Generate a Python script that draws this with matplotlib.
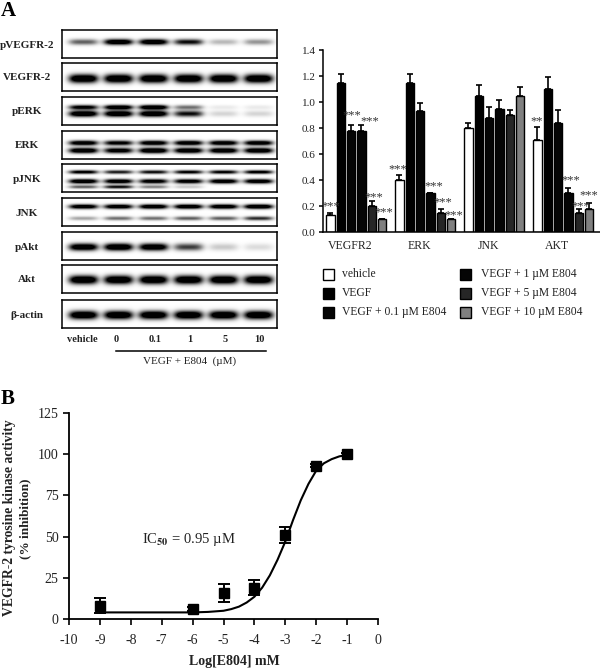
#!/usr/bin/python

import numpy as np
import matplotlib
matplotlib.use('Agg')
import matplotlib.pyplot as plt
from matplotlib.patches import Rectangle

plt.rcParams['font.family'] = ['Liberation Serif', 'DejaVu Serif']
plt.rcParams['mathtext.fontset'] = 'stix'

W, H = 600, 670

# panel A, blots: name, y of box top, bands as (y fraction, thickness px, six lane strengths)
blot_names = ['pVEGFR-2', 'VEGFR-2', 'pERK', 'ERK', 'pJNK', 'JNK', 'pAkt', 'Akt', '\u03b2-actin']
blot_tops = [30, 63, 97, 131, 164, 198, 232, 265, 300]
blot_bands = [
    [(.41, 2.0, [.45, .95, .95, .7, .2, .3])],
    [(.54, 3.0, [1, 1, 1, 1, 1, 1])],
    [(.35, 1.6, [.8, .95, 1, .4, .06, .06]), (.58, 2.1, [1, 1, 1, .7, .12, .12])],
    [(.41, 1.7, [.9, .8, .9, .9, .9, .9]), (.68, 1.9, [.95, .85, 1, .95, .95, .95])],
    [(.27, 1.3, [.8, .65, .7, .75, .75, .8]), (.60, 1.6, [.95, .9, .85, .85, .9, .9]),
     (.80, 1.2, [.45, .7, .35, .15, 0, 0])],
    [(.29, 1.6, [.9, .9, .95, .95, .95, 1]), (.71, 1.4, [.25, .4, .4, .45, .45, .6])],
    [(.52, 2.5, [.95, 1, .95, .55, .15, .1])],
    [(.51, 3.0, [1, 1, 1, 1, 1, 1])],
    [(.52, 2.9, [1, 1, 1, 1, 1, 1])],
]
lane_centres = [83, 118, 153, 188, 223, 258]
lane_labels = ['vehicle', '0', '0.1', '1', '5', '10']
lane_label_x = [82, 116, 155, 190, 225, 259]

# panel A, bars
groups = ['VEGFR2', 'ERK', 'JNK', 'AKT']
treatments = ['vehicle', 'VEGF', 'VEGF + 0.1 \u00b5M E804', 'VEGF + 1 \u00b5M E804',
              'VEGF + 5 \u00b5M E804', 'VEGF + 10 \u00b5M E804']
bar_colors = ['white', 'black', '#050505', '#050505', '#262626', '#808080']
vals = [[.13, 1.15, .78, .78, .20, .10],
        [.40, 1.15, .93, .30, .15, .10],
        [.80, 1.05, .88, .95, .90, 1.05],
        [.71, 1.10, .84, .30, .15, .175]]
errs = [[.02, .065, .045, .045, .04, 0],
        [.04, .065, .06, 0, .03, 0],
        [.04, .08, .08, .065, .04, .065],
        [.10, .09, .095, .04, .03, .045]]
# group, bar, text, y, x shift in bar spacings
stars = [(0, 0, '***', .195, 0), (0, 2, '***', .90, .1), (0, 3, '***', .85, .8),
         (0, 4, '***', .265, .2), (0, 5, '***', .15, .15),
         (1, 0, '***', .485, -.2), (1, 3, '***', .355, .3), (1, 4, '***', .225, .2),
         (1, 5, '***', .13, .25),
         (3, 0, '**', .855, -.1), (3, 3, '***', .395, .2), (3, 4, '***', .195, .15),
         (3, 5, '***', .285, 0)]

# panel B
dose_x = [-9, -6, -5, -4, -3, -2, -1]
dose_y = [8, 6, 16, 19, 51, 93, 100]
dose_err = [4.5, 1, 5.5, 4.5, 5, 1, 1]
curve_x = [-9, -7, -6, -5.5, -5, -4.75, -4.5, -4.25, -4, -3.75, -3.5, -3.25, -3, -2.75,
           -2.5, -2.25, -2, -1.75, -1.5, -1.25, -1]
curve_y = [4, 4, 4, 4.3, 5, 6, 7.5, 10, 13.5, 19, 26.5, 36, 47, 60,
           72, 82, 90, 94.5, 97, 98.7, 99.5]


def px_axes(fig, x0, y0, x1, y1):
    return fig.add_axes([x0 / W, 1 - y1 / H, (x1 - x0) / W, (y1 - y0) / H])


def blot_image(bands, w, h):
    yy, xx = np.mgrid[0:h, 0:w]
    arr = np.zeros((h, w))
    for frac, thick, strengths in bands:
        for cx, s in zip(lane_centres, strengths):
            cx = cx - 62
            across = np.exp(-((xx - cx) / 14.5) ** 4)
            down = np.exp(-((yy - frac * h) / (thick * 1.45)) ** 2)
            arr += s * across * down
    return 1 - np.clip(arr * 1.4, 0, 1)


def draw_blots(fig, txt):
    for name, top, bands in zip(blot_names, blot_tops, blot_bands):
        ax = px_axes(fig, 62, top, 277, top + 28)
        ax.imshow(blot_image(bands, 215, 28), cmap='gray', vmin=0, vmax=1, aspect='auto',
                  interpolation='bilinear')
        ax.set_xticks([])
        ax.set_yticks([])
        for s in ax.spines.values():
            s.set_linewidth(1.1)
        txt.text(27, top + 15, name, ha='center', va='center', fontsize=8, fontweight='bold',
                 color='#222222')
    for x, lab in zip(lane_label_x, lane_labels):
        txt.text(x, 339, lab, ha='center', va='center', fontsize=7.5, fontweight='bold',
                 color='#222222')
    txt.plot([116, 266], [350.5, 350.5], color='black', lw=1.1)
    txt.text(190, 361, 'VEGF + E804  (\u00b5M)', ha='center', va='center', fontsize=8, color='#222222')


def draw_bars(fig, txt):
    ax = px_axes(fig, 322.5, 50, 600, 232)
    step = 6.67
    for g in range(len(groups)):
        xs = [g * step + i for i in range(6)]
        ax.bar(xs, vals[g], width=.8, color=bar_colors, edgecolor='black', linewidth=1.0)
        ax.errorbar(xs, vals[g], yerr=[np.zeros(6), errs[g]], fmt='none', ecolor='black',
                    elinewidth=1.2, capsize=2, capthick=1.2)
    for g, b, s, y, dx in stars:
        ax.text(g * step + b + dx, y, s, ha='center', va='center', fontsize=9, color='#333333')
    ax.set_xlim(-.77, 26.06)
    ax.set_ylim(0, 1.4)
    ax.set_yticks(np.arange(0, 1.5, .2))
    ax.set_yticklabels(['%.1f' % v for v in np.arange(0, 1.5, .2)], fontsize=8, color='#222222')
    ax.set_xticks([g * step + 1.9 for g in range(4)])
    ax.set_xticklabels(groups, fontsize=8.5, color='#222222')
    ax.tick_params(axis='x', length=0, pad=6)
    ax.tick_params(axis='y', length=3, width=1.1, pad=2)
    for side in ['top', 'right']:
        ax.spines[side].set_visible(False)
    ax.spines['left'].set_linewidth(1.1)
    ax.spines['bottom'].set_linewidth(1.1)

    # legend
    rows = [274, 293, 312]
    for i, lab in enumerate(treatments):
        col_x, text_x = (323, 342) if i < 3 else (460, 481)
        y = rows[i % 3]
        txt.add_patch(Rectangle((col_x, y - 5.5), 11, 11, facecolor=bar_colors[i], edgecolor='black',
                                linewidth=1.0))
        txt.text(text_x, y, lab, ha='left', va='center', fontsize=8.4, color='#222222')


def draw_dose(fig):
    ax = px_axes(fig, 69, 413, 378, 619)
    ax.plot(curve_x, curve_y, color='black', lw=1.5)
    ax.errorbar(dose_x, dose_y, yerr=dose_err, fmt='s', color='black', ms=7.5, elinewidth=1.4,
                capsize=4, capthick=1.4, clip_on=False)
    ax.set_xlim(-10, 0)
    ax.set_ylim(0, 125)
    ax.set_xticks(range(-10, 1))
    ax.set_xticklabels([str(v) for v in range(-10, 1)])
    ax.set_yticks(range(0, 126, 25))
    ax.tick_params(axis='both', labelsize=10, length=4.5, width=1.2, labelcolor='#222222')
    ax.tick_params(axis='x', pad=6)
    ax.tick_params(axis='y', pad=3)
    for side in ['top', 'right']:
        ax.spines[side].set_visible(False)
    ax.spines['left'].set_linewidth(1.3)
    ax.spines['bottom'].set_linewidth(1.3)
    ax.text(-6.12, 48, 'IC$_{\\mathbf{50}}$ = 0.95 \u00b5M', ha='center', va='center', fontsize=10.5,
            color='#222222')


def main():
    fig = plt.figure(figsize=(W / 100, H / 100), dpi=100)
    txt = fig.add_axes([0, 0, 1, 1])
    txt.set_xlim(0, W)
    txt.set_ylim(H, 0)
    txt.axis('off')

    draw_blots(fig, txt)
    draw_bars(fig, txt)
    draw_dose(fig)

    txt.text(1, 11, 'A', ha='left', va='center', fontsize=15, fontweight='bold')
    txt.text(1, 399, 'B', ha='left', va='center', fontsize=15, fontweight='bold')
    txt.text(10, 518, 'VEGFR-2 tyrosine kinase activity', rotation=90, ha='center', va='center',
             fontsize=9.8, fontweight='bold', color='#222222')
    txt.text(25, 519, '(% inhibition)', rotation=90, ha='center', va='center',
             fontsize=9.5, fontweight='bold', color='#222222')
    txt.text(234, 662, 'Log[E804] mM', ha='center', va='center', fontsize=10, fontweight='bold',
             color='#222222')

    fig.savefig('out.png', dpi=100)


if __name__ == "__main__":
    main()
